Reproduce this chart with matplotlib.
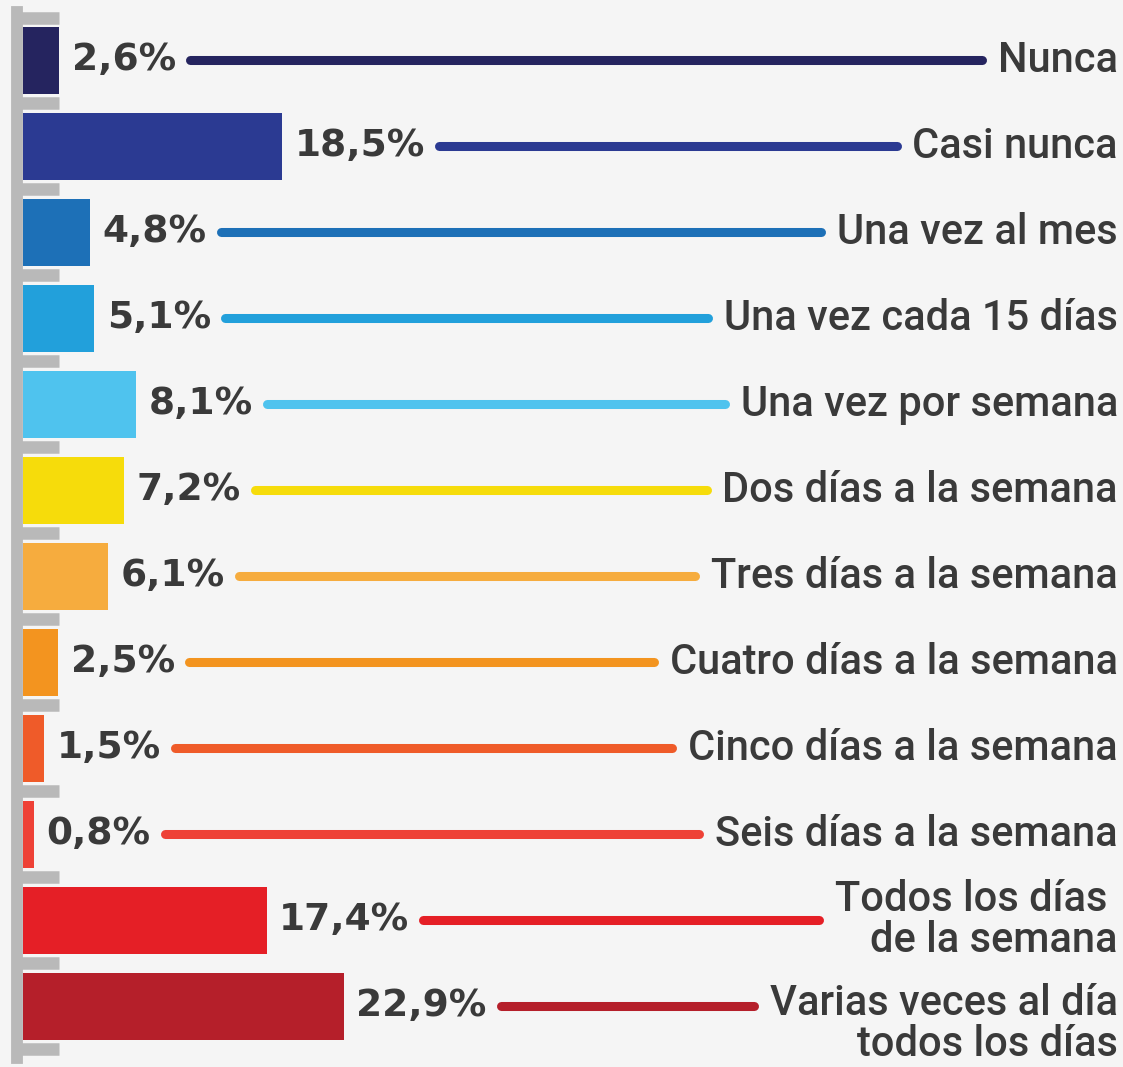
import numpy as np
import matplotlib
matplotlib.use("Agg")
import matplotlib.pyplot as plt

categorias = [
    "Nunca",
    "Casi nunca",
    "Una vez al mes",
    "Una vez cada 15 días",
    "Una vez por semana",
    "Dos días a la semana",
    "Tres días a la semana",
    "Cuatro días a la semana",
    "Cinco días a la semana",
    "Seis días a la semana",
    "Todos los días \nde la semana",
    "Varias veces al día\ntodos los días",
]
porcentajes = [2.6, 18.5, 4.8, 5.1, 8.1, 7.2, 6.1, 2.5, 1.5, 0.8, 17.4, 22.9]
colores = [
    "#25245f", "#2b3a92", "#1d70b7", "#22a0db", "#4fc3ee", "#f6dc0b",
    "#f6ac3e", "#f3941f", "#ef5b29", "#ee4136", "#e51f26", "#b51f2a",
]

gris = "#b9b9b9"
texto = "#3a3a3a"

fig = plt.figure(figsize=(11.23, 10.67), dpi=100)
fig.patch.set_facecolor("#f5f5f5")
ax = fig.add_axes([23 / 1123, 9 / 1067, 1095 / 1123, 1046 / 1067])
ax.set_facecolor("none")

n = len(categorias)
y = np.arange(n)
ax.barh(y, porcentajes, height=0.77, color=colores, zorder=2)
ax.set_xlim(0, 78.2)
ax.set_ylim(11.6, -0.564)

# eje gris en forma de peine
for lado in ["top", "right", "bottom"]:
    ax.spines[lado].set_visible(False)
ax.spines["left"].set_position(("outward", 4))
ax.spines["left"].set_linewidth(8.5)
ax.spines["left"].set_color(gris)
ax.set_yticks(np.arange(n + 1) - 0.5)
ax.set_yticklabels([])
ax.tick_params(axis="y", direction="in", length=30, width=9, color=gris)
ax.set_xticks([])
ax.set_axisbelow(True)

textos_pct = []
textos_cat = []
for i, v in enumerate(porcentajes):
    etiqueta = f"{v:.1f}%".replace(".", ",")
    t = ax.annotate(etiqueta, (v, i), xytext=(9, 0), textcoords="offset points",
                    ha="left", va="center", fontsize=27, fontweight="bold",
                    family="DejaVu Sans", color=texto)
    textos_pct.append(t)

    desplazamiento = -13 if i == n - 1 else 0
    c = ax.annotate(categorias[i], (1, i), xycoords=("axes fraction", "data"),
                    xytext=(0, desplazamiento), textcoords="offset points",
                    ha="right", va="center", multialignment="right",
                    fontsize=30, fontweight="medium", family="Roboto",
                    color=texto, linespacing=1.0)
    textos_cat.append(c)

# lineas que unen el porcentaje con la categoria
fig.canvas.draw()
render = fig.canvas.get_renderer()
inv = ax.transData.inverted()
for i in range(n):
    b1 = textos_pct[i].get_window_extent(render)
    b2 = textos_cat[i].get_window_extent(render)
    x0 = inv.transform((b1.x1 + 14, 0))[0]
    x1 = inv.transform((b2.x0 - 16, 0))[0]
    ax.plot([x0, x1], [i, i], color=colores[i], lw=6.5, solid_capstyle="round", zorder=2)

fig.savefig("out.png", dpi=100, facecolor=fig.get_facecolor())
